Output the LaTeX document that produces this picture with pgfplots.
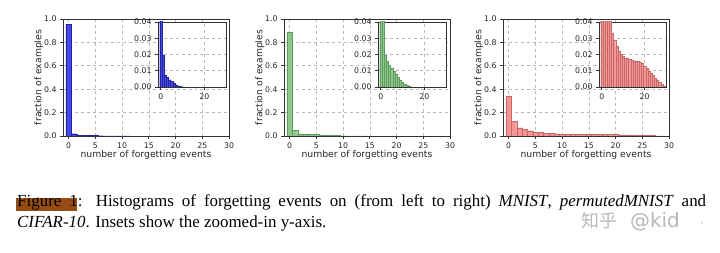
\documentclass[border=0pt]{standalone}
\usepackage{fontspec}
\setmainfont{Liberation Serif}
\newfontfamily\djv{DejaVu Sans}
\newfontfamily\cjk{Noto Sans CJK SC}
\usepackage{pgfplots}
\pgfplotsset{compat=1.18}

\definecolor{gridc}{RGB}{185,185,185}
\definecolor{framec}{RGB}{50,50,50}
\definecolor{bfill}{RGB}{72,72,232}
\definecolor{bedge}{RGB}{35,35,160}
\definecolor{gfill}{RGB}{142,200,136}
\definecolor{gedge}{RGB}{95,155,95}
\definecolor{rfill}{RGB}{246,148,148}
\definecolor{redge}{RGB}{195,105,105}
\definecolor{hlbrown}{RGB}{150,76,18}

\newcommand{\tkfont}{\djv\fontsize{7.8}{9}\selectfont}
\newcommand{\lbfont}{\djv\fontsize{9.3}{11}\selectfont}

\pgfplotsset{
  histbase/.style={
    scale only axis,
    anchor=south west,
    axis line style={framec, line width=0.7bp},
    tick style={framec, line width=0.7bp},
    tick align=outside,
    major tick length=3bp,
    xtick pos=left, ytick pos=left,
    grid=major,
    major grid style={dashed, gridc, line width=0.6bp},
    /pgf/number format/assume math mode=true,
    scaled y ticks=false,
    scaled x ticks=false,
    ymin=0,
    xticklabel style={font=\tkfont, text=black!85},
  },
  mainax/.style={histbase, width=166bp, height=117bp,
    xmin=-1.06, xmax=30, ymax=1,
    xtick={0,5,10,15,20,25,30}, ytick={0,0.2,0.4,0.6,0.8,1},
    yticklabel style={font=\tkfont, text=black!85, /pgf/number format/.cd, fixed, fixed zerofill, precision=1},
    xlabel={\lbfont number of forgetting events},
    ylabel={\lbfont fraction of examples},
    xlabel style={at={(axis description cs:0.5,-0.165)}, anchor=center, font=\lbfont, text=black!85},
    ylabel style={at={(axis description cs:-0.145,0.5)}, anchor=center, font=\lbfont, text=black!85},
  },
  insetax/.style={histbase, width=68bp, height=65bp,
    xmin=-1.3, xmax=30, ymax=0.04,
    xtick={0,20}, ytick={0,0.01,0.02,0.03,0.04},
    yticklabel style={font=\tkfont, text=black!85, /pgf/number format/.cd, fixed, fixed zerofill, precision=2},
    axis background/.style={fill=white},
  },
}

\newcommand{\mnist}{(-0.5,0.957) (0.5,0.0197) (1.5,0.0075) (2.5,0.0060) (3.5,0.0045) (4.5,0.0033) (5.5,0.0022) (6.5,0.0014) (7.5,0.0008) (8.5,0.0004) (9.5,0.0002) (10.5,0.0001) (11.5,0)}
\newcommand{\pmnist}{(-0.5,0.885) (0.5,0.048) (1.5,0.0198) (2.5,0.0160) (3.5,0.0135) (4.5,0.0117) (5.5,0.0096) (6.5,0.0079) (7.5,0.0058) (8.5,0.0044) (9.5,0.0029) (10.5,0.0019) (11.5,0.0010) (12.5,0.0005) (13.5,0.0002) (14.5,0)}
\newcommand{\cifar}{(-0.5,0.343) (0.5,0.126) (1.5,0.071) (2.5,0.057) (3.5,0.045) (4.5,0.033) (5.5,0.029) (6.5,0.025) (7.5,0.022) (8.5,0.020) (9.5,0.019) (10.5,0.018) (11.5,0.0175) (12.5,0.017) (13.5,0.0165) (14.5,0.016) (15.5,0.016) (16.5,0.0158) (17.5,0.015) (18.5,0.0145) (19.5,0.013) (20.5,0.0115) (21.5,0.010) (22.5,0.0085) (23.5,0.007) (24.5,0.0055) (25.5,0.004) (26.5,0.003) (27.5,0.0015) (28.5,0.0008) (29.5,0)}

\begin{document}
\begin{tikzpicture}
\useasboundingbox (0,0) rectangle (720bp,253bp);

% ---- Panel 1: MNIST
\begin{axis}[mainax, at={(63bp,117bp)}]
\addplot[ybar interval, fill=bfill, draw=bedge, line width=0.3bp] coordinates {\mnist};
\end{axis}
\begin{axis}[insetax, at={(158bp,166bp)}]
\addplot[ybar interval, fill=bfill, draw=bedge, line width=0.3bp] coordinates {\mnist};
\end{axis}

% ---- Panel 2: permutedMNIST
\begin{axis}[mainax, at={(284bp,117bp)}]
\addplot[ybar interval, fill=gfill, draw=gedge, line width=0.3bp] coordinates {\pmnist};
\end{axis}
\begin{axis}[insetax, at={(378bp,166bp)}]
\addplot[ybar interval, fill=gfill, draw=gedge, line width=0.3bp] coordinates {\pmnist};
\end{axis}

% ---- Panel 3: CIFAR-10
\begin{axis}[mainax, at={(503bp,117bp)}]
\addplot[ybar interval, fill=rfill, draw=redge, line width=0.3bp] coordinates {\cifar};
\end{axis}
\begin{axis}[insetax, width=67bp, at={(599bp,166bp)}]
\addplot[ybar interval, fill=rfill, draw=redge, line width=0.3bp] coordinates {\cifar};
\end{axis}

% ---- Caption
\fill[hlbrown] (16bp,42bp) rectangle (77bp,55bp);
\node[anchor=base west, inner sep=0pt] at (17bp,46bp)
  {\fontsize{17}{20}\selectfont\makebox[689bp][s]{Figure 1: Histograms of forgetting events on (from left to right) \textit{MNIST}, \textit{permutedMNIST} and}};
\node[anchor=base west, inner sep=0pt] at (17bp,26bp)
  {\fontsize{17}{20}\selectfont \textit{CIFAR-10}. Insets show the zoomed-in y-axis.};

% ---- Watermark
\node[anchor=base west, inner sep=0pt, text=black!28] at (581bp,26bp)
  {\cjk\fontsize{18}{18}\selectfont 知乎};
\node[anchor=base west, inner sep=0pt, text=black!28] at (630bp,26bp)
  {\djv\fontsize{20}{20}\selectfont @kid};
\node[anchor=base west, inner sep=0pt, text=black!28] at (700bp,26bp)
  {\djv\fontsize{12}{12}\selectfont ·};
\end{tikzpicture}
\end{document}
